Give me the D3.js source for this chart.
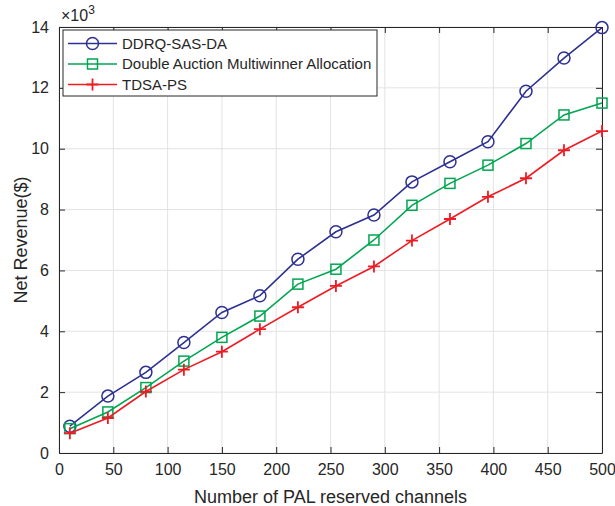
<!doctype html>
<html lang="en">
  <head>
    <meta charset="utf-8">
    <title>Net Revenue</title>
    <script src="https://d3js.org/d3.v7.min.js"></script>
    <style>
      body { margin: 0; background: #fff; }
      text { font-family: "Liberation Sans", Arial, sans-serif; fill: #262626; }
    </style>
  </head>
  <body>
    <script>

      // channels (x) and revenue (x10^3)
      var channels = [10, 45, 80, 115, 150, 185, 220, 255, 290, 325, 360, 395, 430, 465, 500];
      var ddrq   = [0.88, 1.87, 2.65, 3.63, 4.62, 5.17, 6.37, 7.27, 7.82, 8.91, 9.57, 10.23, 11.89, 12.98, 13.98];
      var double = [0.80, 1.35, 2.15, 3.02, 3.80, 4.50, 5.55, 6.04, 7.00, 8.14, 8.86, 9.46, 10.17, 11.11, 11.50];
      var tdsa   = [0.65, 1.15, 2.02, 2.74, 3.33, 4.07, 4.79, 5.49, 6.13, 6.98, 7.69, 8.42, 9.03, 9.95, 10.58];
      var seriesNames = ["DDRQ-SAS-DA", "Double Auction Multiwinner Allocation", "TDSA-PS"];
      var xTicks = [0, 50, 100, 150, 200, 250, 300, 350, 400, 450, 500];
      var yTicks = [0, 2, 4, 6, 8, 10, 12, 14];

      var margin = {top: 27, right: 13, bottom: 53, left: 59},
          width = 615 - margin.left - margin.right,
          height = 506 - margin.top - margin.bottom;

      var svg = d3.select("body").append("svg")
          .attr("width", 615)
          .attr("height", 506);

      var g = svg.append("g")
          .attr("transform", "translate(" + margin.left + "," + margin.top + ")");

      var x = d3.scaleLinear().domain([0, 500]).range([0, width]);
      var y = d3.scaleLinear().domain([0, 14]).range([height, 0]);

      // grid
      g.append("g").selectAll("line").data(xTicks).join("line")
          .attr("x1", d => x(d)).attr("x2", d => x(d))
          .attr("y1", 0).attr("y2", height)
          .attr("stroke", "#e3e3e3");
      g.append("g").selectAll("line").data(yTicks).join("line")
          .attr("y1", d => y(d)).attr("y2", d => y(d))
          .attr("x1", 0).attr("x2", width)
          .attr("stroke", "#e3e3e3");

      // axes, ticks pointing in
      function styleAxis(sel) {
        sel.select(".domain").attr("stroke", "#262626");
        sel.selectAll(".tick line").attr("stroke", "#262626");
        sel.selectAll(".tick text").style("font-size", "16px").attr("fill", "#262626");
      }
      g.append("g").attr("transform", "translate(0," + height + ")")
          .call(d3.axisBottom(x).tickValues(xTicks).tickSizeInner(-6).tickSizeOuter(0).tickPadding(11))
          .call(styleAxis);
      g.append("g")
          .call(d3.axisLeft(y).tickValues(yTicks).tickSizeInner(-6).tickSizeOuter(0).tickPadding(10))
          .call(styleAxis);
      g.append("g")
          .call(d3.axisTop(x).tickValues(xTicks).tickSizeInner(-6).tickSizeOuter(0).tickFormat(""))
          .call(styleAxis);
      g.append("g").attr("transform", "translate(" + width + ",0)")
          .call(d3.axisRight(y).tickValues(yTicks).tickSizeInner(-6).tickSizeOuter(0).tickFormat(""))
          .call(styleAxis);

      // exponent label
      var expo = svg.append("text").attr("x", margin.left + 2).attr("y", 21).style("font-size", "16px");
      expo.append("tspan").text("\u00d710");
      expo.append("tspan").attr("dy", -7).style("font-size", "12px").text("3");

      // axis titles
      svg.append("text")
          .attr("x", margin.left + width / 2).attr("y", 503)
          .attr("text-anchor", "middle").style("font-size", "18px")
          .text("Number of PAL reserved channels");
      svg.append("text")
          .attr("transform", "translate(27," + (margin.top + height / 2) + ") rotate(-90)")
          .attr("text-anchor", "middle").style("font-size", "18px")
          .text("Net Revenue($)");

      var series = [
        {name: seriesNames[0], values: ddrq, color: "#2e3192", marker: "circle"},
        {name: seriesNames[1], values: double, color: "#00a651", marker: "square"},
        {name: seriesNames[2], values: tdsa, color: "#ed1c24", marker: "plus"}
      ];

      var line = d3.line().x(d => x(d[0])).y(d => y(d[1]));

      function drawMarker(sel, type, color) {
        if (type === "circle") {
          sel.append("circle").attr("r", 6).attr("fill", "none").attr("stroke", color).attr("stroke-width", 1.5);
        } else if (type === "square") {
          sel.append("rect").attr("x", -5).attr("y", -5).attr("width", 10).attr("height", 10)
              .attr("fill", "none").attr("stroke", color).attr("stroke-width", 1.5);
        } else {
          sel.append("path").attr("d", "M-6,0H6M0,-6V6").attr("stroke", color).attr("stroke-width", 1.8);
        }
      }

      series.forEach(function(s) {
        var pts = channels.map((c, i) => [c, s.values[i]]);
        g.append("path").datum(pts)
            .attr("d", line)
            .attr("fill", "none")
            .attr("stroke", s.color)
            .attr("stroke-width", 1.6);
        g.append("g").selectAll("g").data(pts).join("g")
            .attr("transform", d => "translate(" + x(d[0]) + "," + y(d[1]) + ")")
            .each(function() { drawMarker(d3.select(this), s.marker, s.color); });
      });

      // legend
      var lg = svg.append("g").attr("transform", "translate(63,30)");
      lg.append("rect").attr("width", 314).attr("height", 66)
          .attr("fill", "#fff").attr("stroke", "#262626").attr("stroke-width", 1);
      series.forEach(function(s, i) {
        var row = lg.append("g").attr("transform", "translate(0," + (13.5 + i * 20.5) + ")");
        row.append("line").attr("x1", 5).attr("x2", 54).attr("stroke", s.color).attr("stroke-width", 1.6);
        drawMarker(row.append("g").attr("transform", "translate(29.5,0)"), s.marker, s.color);
        row.append("text").attr("x", 59).attr("dy", "0.35em").style("font-size", "15px").text(s.name);
      });

    </script>
  </body>
</html>
